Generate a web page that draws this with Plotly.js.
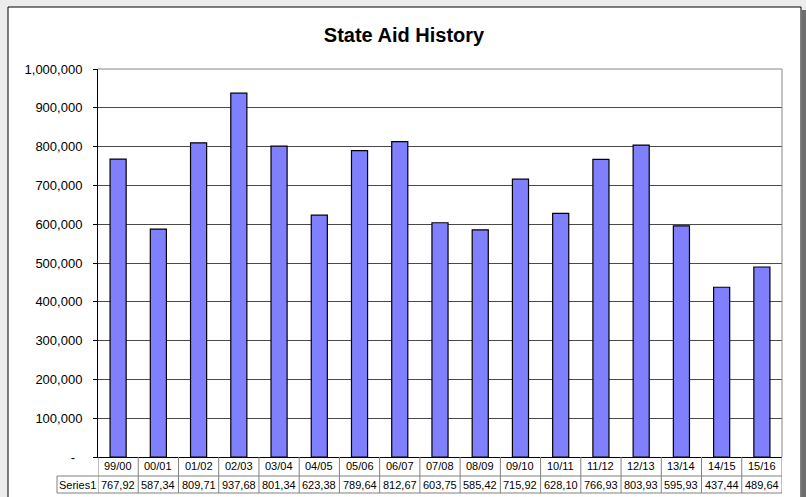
<!DOCTYPE html>
<html>
<head>
<meta charset="utf-8">
<script src="https://cdn.plot.ly/plotly-3.0.1.min.js"></script>
<style>html,body{margin:0;padding:0;background:#ececec;}#chart{width:806px;height:497px;}</style>
</head>
<body>
<div id="chart"></div>
<script>
// Data
const categories = ["99/00","00/01","01/02","02/03","03/04","04/05","05/06","06/07","07/08","08/09","09/10","10/11","11/12","12/13","13/14","14/15","15/16"];
const series1 = [767920,587340,809710,937680,801340,623380,789640,812670,603750,585420,715920,628100,766930,803930,595930,437440,489640];
const seriesName = "Series1";
const yTickVals = [0,100000,200000,300000,400000,500000,600000,700000,800000,900000,1000000];
const yTickText = ["-\u00a0\u00a0","100,000","200,000","300,000","400,000","500,000","600,000","700,000","800,000","900,000","1,000,000"];

// geometry (pixels) -> paper coordinates
const W = 806, H = 497, mL = 98, mR = 24, mT = 69, mB = 40;
const pw = W - mL - mR, ph = H - mT - mB;
const px = x => (x - mL) / pw;
const py = y => (H - mB - y) / ph;

const font = "Liberation Sans, Arial, sans-serif";
const tblLine = {color: "#808080", width: 1};
const shapes = [];
const annotations = [];

// outer chart frame
shapes.push({type:"rect", xref:"paper", yref:"paper", x0:px(8), x1:px(801), y0:py(520), y1:py(7),
  fillcolor:"#ffffff", line:{color:"#000000", width:1}, layer:"below"});
// right shadow
shapes.push({type:"rect", xref:"paper", yref:"paper", x0:px(802), x1:px(806), y0:py(520), y1:py(10),
  fillcolor:"#6e6e6e", line:{width:0}, layer:"below"});
// plot border top/right (gray)
shapes.push({type:"line", xref:"paper", yref:"paper", x0:0, x1:1, y0:1, y1:1, line:{color:"#888888", width:1}});
shapes.push({type:"line", xref:"paper", yref:"paper", x0:1, x1:1, y0:0, y1:1, line:{color:"#888888", width:1}});

// data table
const rowMid = py(476), rowBot = py(493);
for (let i = 0; i <= categories.length; i++) {
  shapes.push({type:"line", xref:"x", yref:"paper", x0:i-0.5, x1:i-0.5, y0:0, y1:rowBot, line:tblLine});
}
shapes.push({type:"line", xref:"paper", yref:"paper", x0:px(57), x1:1, y0:rowMid, y1:rowMid, line:tblLine});
shapes.push({type:"line", xref:"paper", yref:"paper", x0:px(57), x1:1, y0:rowBot, y1:rowBot, line:tblLine});
shapes.push({type:"line", xref:"paper", yref:"paper", x0:px(57), x1:px(57), y0:rowMid, y1:rowBot, line:tblLine});

const fmt = v => (v/1000).toFixed(2).replace(".", ",");
const tf = {family:font, size:11, color:"#000"};
categories.forEach((c, i) => {
  annotations.push({x:i, y:(0+rowMid)/2, xref:"x", yref:"paper", text:c, showarrow:false,
    font:tf, xanchor:"center", yanchor:"middle"});
  annotations.push({x:i, y:(rowMid+rowBot)/2, xref:"x", yref:"paper", text:fmt(series1[i]), showarrow:false,
    font:tf, xanchor:"center", yanchor:"middle"});
});
annotations.push({x:px(77.5), y:(rowMid+rowBot)/2, xref:"paper", yref:"paper", text:seriesName, showarrow:false,
  font:tf, xanchor:"center", yanchor:"middle"});

const trace = {
  type:"bar", x:categories, y:series1, name:seriesName,
  marker:{color:"#8080FF", line:{color:"#000000", width:1.2}},
  hoverinfo:"none"
};

const layout = {
  width:W, height:H,
  margin:{l:mL, r:mR, t:mT, b:mB, pad:0},
  paper_bgcolor:"#ececec", plot_bgcolor:"#ffffff",
  showlegend:false,
  bargap:0.6,
  title:{text:"State Aid History", x:404/W, xanchor:"center", y:1-35/H, yanchor:"middle",
    font:{family:font, size:20, color:"#000", weight:"bold"}},
  xaxis:{type:"category", range:[-0.5, categories.length-0.5], showticklabels:false, ticks:"",
    showgrid:false, showline:true, linecolor:"#000", linewidth:1, zeroline:false, fixedrange:true},
  yaxis:{range:[0,1000000], tickvals:yTickVals, ticktext:yTickText, ticks:"outside", ticklen:4,
    tickcolor:"#000", showline:true, linecolor:"#000", linewidth:1, showgrid:true, gridcolor:"#4a4a4a",
    gridwidth:1, zeroline:false, tickfont:{family:font, size:13, color:"#000"}, ticklabelstandoff:8, fixedrange:true},
  shapes:shapes,
  annotations:annotations
};

Plotly.newPlot("chart", [trace], layout, {displayModeBar:false, staticPlot:true});
</script>
</body>
</html>
